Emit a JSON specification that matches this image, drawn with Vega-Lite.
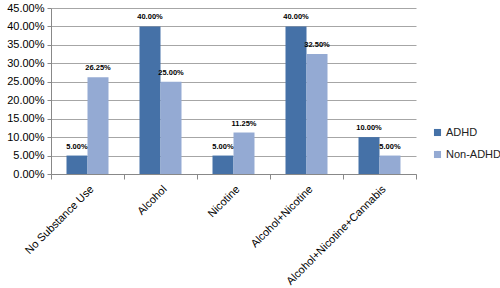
{
  "$schema": "https://vega.github.io/schema/vega-lite/v6.json",
  "width": 365,
  "height": 166,
  "autosize": {"type": "none"},
  "padding": {"left": 51, "top": 8, "right": 84, "bottom": 114},
  "background": "white",
  "data": {
    "values": [
      {"category": "No Substance Use", "group": "ADHD", "value": 0.05},
      {"category": "No Substance Use", "group": "Non-ADHD", "value": 0.2625},
      {"category": "Alcohol", "group": "ADHD", "value": 0.40},
      {"category": "Alcohol", "group": "Non-ADHD", "value": 0.25},
      {"category": "Nicotine", "group": "ADHD", "value": 0.05},
      {"category": "Nicotine", "group": "Non-ADHD", "value": 0.1125},
      {"category": "Alcohol+Nicotine", "group": "ADHD", "value": 0.40},
      {"category": "Alcohol+Nicotine", "group": "Non-ADHD", "value": 0.325},
      {"category": "Alcohol+Nicotine+Cannabis", "group": "ADHD", "value": 0.10},
      {"category": "Alcohol+Nicotine+Cannabis", "group": "Non-ADHD", "value": 0.05}
    ]
  },
  "config": {
    "view": {"stroke": null},
    "font": "Liberation Sans"
  },
  "encoding": {
    "x": {
      "field": "category",
      "type": "nominal",
      "sort": ["No Substance Use", "Alcohol", "Nicotine", "Alcohol+Nicotine", "Alcohol+Nicotine+Cannabis"],
      "scale": {"paddingInner": 0, "paddingOuter": 0},
      "axis": {
        "title": null,
        "labelAngle": -45,
        "labelFont": "Liberation Sans",
        "labelFontSize": 11,
        "labelColor": "#000000",
        "labelLimit": 200,
        "tickBand": "extent",
        "tickSize": 5,
        "tickColor": "#888888",
        "domainColor": "#888888",
        "labelPadding": 4
      }
    },
    "xOffset": {
      "field": "group",
      "type": "nominal",
      "scale": {"paddingInner": 0, "paddingOuter": 0.738}
    },
    "y": {
      "field": "value",
      "type": "quantitative",
      "scale": {"domain": [0, 0.45], "nice": false},
      "axis": {
        "title": null,
        "format": ".2%",
        "values": [0, 0.05, 0.1, 0.15, 0.2, 0.25, 0.3, 0.35, 0.4, 0.45],
        "labelFont": "Liberation Sans",
        "labelFontSize": 11,
        "labelColor": "#000000",
        "tickSize": 4,
        "tickColor": "#888888",
        "domainColor": "#888888",
        "gridColor": "#a6a6a6",
        "labelPadding": 3
      }
    }
  },
  "layer": [
    {
      "mark": {"type": "bar"},
      "encoding": {
        "color": {
          "field": "group",
          "type": "nominal",
          "scale": {"domain": ["ADHD", "Non-ADHD"], "range": ["#4571a7", "#94aad3"]},
          "legend": {
            "title": null,
            "orient": "none",
            "legendX": 381,
            "legendY": 119,
            "padding": 0,
            "symbolType": "square",
            "symbolSize": 50,
            "symbolStrokeWidth": 0,
            "labelFont": "Liberation Sans",
            "labelFontSize": 11,
            "labelColor": "#222222",
            "labelLimit": 70,
            "rowPadding": 10,
            "labelOffset": 3
          }
        }
      }
    },
    {
      "mark": {"type": "text", "baseline": "bottom", "dy": -5, "fontSize": 7.5, "fontWeight": "bold", "font": "Liberation Sans", "color": "#000000"},
      "encoding": {
        "text": {"field": "value", "type": "quantitative", "format": ".2%"}
      }
    }
  ]
}
